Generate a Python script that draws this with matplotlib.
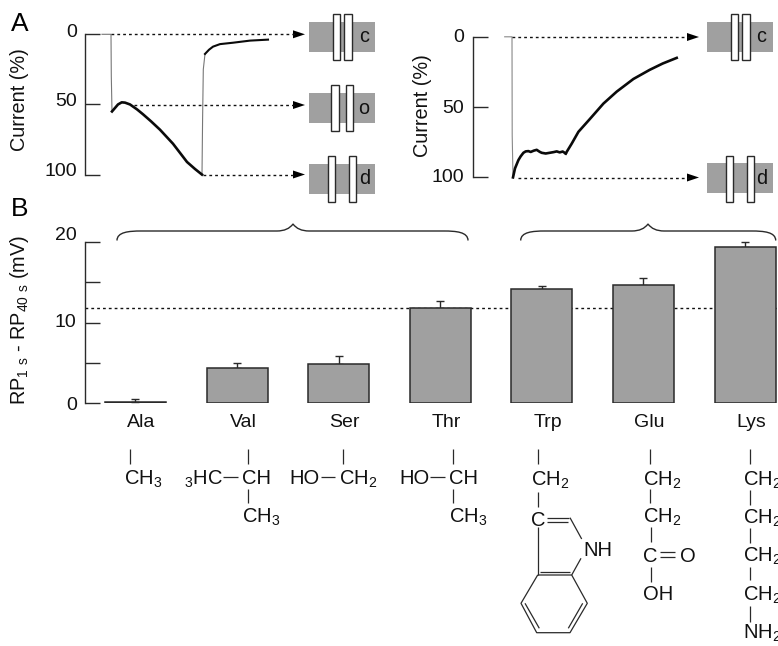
import numpy as np
import matplotlib
matplotlib.use("Agg")
import matplotlib.pyplot as plt
from matplotlib.patches import Rectangle, Polygon, PathPatch
from matplotlib.path import Path

plt.rcParams['font.family'] = ['Liberation Sans', 'DejaVu Sans']
plt.rcParams['mathtext.default'] = 'regular'
plt.rcParams['mathtext.fontset'] = 'custom'
plt.rcParams['mathtext.rm'] = 'Liberation Sans'

W, H = 778, 646
DARK = '#2a2a2a'
GREY = '#a0a0a0'

# bar data
amino = ['Ala', 'Val', 'Ser', 'Thr', 'Trp', 'Glu', 'Lys']
rp_diff = [0.1, 4.4, 4.8, 11.85, 14.1, 14.65, 19.4]
rp_top = [0.5, 5.0, 5.9, 12.7, 14.55, 15.55, 19.95]
threshold = 11.8
bar_ticks = [0, 5, 10, 15, 20]

# current traces, left panel
t1_fast_a = [17, 26, 26.3, 27]
c1_fast_a = [0, 0, 30, 55]
t1_slow = [27, 30, 33, 36.7, 40, 45, 52, 58, 66, 75, 88, 95, 102, 110, 117]
c1_slow = [55, 52.5, 50, 48.5, 48.7, 50, 53.5, 57, 62, 68, 78, 84.5, 91, 96, 100]
t1_fast_b = [117, 117.6, 118.3, 120]
c1_fast_b = [100, 60, 25, 14]
t1_rec = [120, 124, 128, 135, 148, 165, 183]
c1_rec = [14, 11, 8.8, 7, 6, 4.5, 3.8]

# current traces, right panel
t2_fast = [32, 39.3, 39.5, 40.3]
c2_fast = [0, 0, 70, 100]
t2_slow = [40.3, 42.3, 45.7, 48, 50.7, 53, 55.7, 58, 61, 64, 67, 69, 73, 77, 81, 84, 87, 90, 93]
c2_slow = [100, 93.6, 87.7, 85, 82.5, 81.5, 81.3, 81.9, 81, 80.4, 81.8, 82.5, 83, 82.5, 82, 81.5, 82.2, 81.6, 83]
t2_rec = [93, 99, 105.7, 117, 130.7, 144, 160.7, 177, 190, 204]
c2_rec = [83, 76, 67.6, 58.6, 47.5, 39, 30, 23.5, 19, 15]

tick_offsets_a1 = [-2, -3, -3]
tick_offsets_a2 = [1, 1, 0]
tick_offsets_b = [3, 0, -6]


def px_axes(l, t, w, h, **kw):
    return fig.add_axes([l / W, 1 - (t + h) / H, w / W, h / H], **kw)


def bracket_axis(ax, ticks, labels, offsets):
    for s in ['top', 'right', 'bottom']:
        ax.spines[s].set_visible(False)
    ax.spines['left'].set_color(DARK)
    ax.spines['left'].set_linewidth(1.0)
    ax.set_xticks([])
    ax.set_yticks(ticks)
    ax.set_yticklabels([])
    ax.tick_params(axis='y', direction='in', length=10.8, width=1.0, color=DARK)
    k = 0
    for v in labels:
        ax.annotate(str(v), xy=(0, v), xycoords=('axes fraction', 'data'),
                    xytext=(-6, -offsets[k] * 0.72), textcoords='offset points',
                    ha='right', va='center', fontsize=14, color='#111111')
        k += 1


fig = plt.figure(figsize=(W / 100, H / 100), dpi=100)

# panel A, left
ax1 = px_axes(85, 34.3, 215, 140.3)
ax1.set_xlim(0, 215)
ax1.set_ylim(100, 0)
bracket_axis(ax1, [0, 50, 100], [0, 50, 100], tick_offsets_a1)
ax1.plot(t1_fast_a, c1_fast_a, color='#777777', lw=0.8, clip_on=False)
ax1.plot(t1_fast_b, c1_fast_b, color='#777777', lw=0.8, clip_on=False)
ax1.plot(t1_slow, c1_slow, color='#0a0a0a', lw=1.9, clip_on=False)
ax1.plot(t1_rec, c1_rec, color='#0a0a0a', lw=1.5, clip_on=False)

# panel A, right
ax2 = px_axes(472.7, 36.8, 215, 140.6)
ax2.set_xlim(0, 215)
ax2.set_ylim(100, 0)
bracket_axis(ax2, [0, 50, 100], [0, 50, 100], tick_offsets_a2)
ax2.plot(t2_fast, c2_fast, color='#888888', lw=0.8, clip_on=False)
ax2.plot(t2_slow, c2_slow, color='#0a0a0a', lw=1.9, clip_on=False)
ax2.plot(t2_rec, c2_rec, color='#0a0a0a', lw=1.9, clip_on=False)

# panel B
ax3 = px_axes(85, 242, 693, 161)
x = np.arange(len(amino))
ax3.set_xlim(-0.497, 6.324)
ax3.set_ylim(0, 20)
bracket_axis(ax3, bar_ticks, [0, 10, 20], tick_offsets_b)
ax3.axhline(threshold, color='#111111', lw=1.0, ls=(0, (2, 2.2)), zorder=1)
err = np.array(rp_top) - np.array(rp_diff)
ax3.errorbar(x, rp_diff, yerr=[np.zeros(len(err)), err], fmt='none', ecolor=DARK,
             elinewidth=1.0, capsize=2.9, capthick=1.0, zorder=1.5, clip_on=False)
ax3.bar(x, rp_diff, width=0.6, color=GREY, edgecolor=DARK, linewidth=1.1, zorder=2)
ax3.set_xticks(x + 0.06)
ax3.set_xticklabels(amino, fontsize=14, color='#111111')
ax3.tick_params(axis='x', length=0, pad=8)

# everything else sits on an overlay in pixel coordinates
ov = px_axes(0, 0, W, H)
ov.set_xlim(0, W)
ov.set_ylim(H, 0)
ov.axis('off')
ov.patch.set_alpha(0)

ov.text(20, 100, 'Current (%)', rotation=90, fontsize=14.3, ha='center', va='center', color='#111111')
ov.text(423, 106, 'Current (%)', rotation=90, fontsize=14.3, ha='center', va='center', color='#111111')
ov.text(20, 320, r'RP$_{1\ s}$ - RP$_{40\ s}$ (mV)', rotation=90, fontsize=14.3, ha='center', va='center', color='#111111')
ov.text(10.5, 24, 'A', fontsize=19, ha='left', va='center')
ov.text(10.5, 209, 'B', fontsize=19, ha='left', va='center')


def arrow(x0, x1, y):
    ov.plot([x0, x1 - 10], [y, y], color='#111111', lw=1.0, ls=(0, (2, 2.2)))
    ov.add_patch(Polygon([[x1 - 12, y - 4], [x1, y], [x1 - 12, y + 4]], closed=True, color='black', lw=0))


arrow(111, 305, 34.3)
arrow(134, 305, 105)
arrow(203, 305, 174.5)
arrow(512, 699, 37)
arrow(518, 699, 177.5)


def channel(gx, gy, r1, r2, top, letter, lx):
    ov.add_patch(Rectangle((gx, gy), 66, 30, facecolor=GREY, edgecolor='none'))
    for r in (r1, r2):
        ov.add_patch(Rectangle((r, top), 7.4, 46, facecolor='white', edgecolor=DARK, lw=1.0))
    ov.text(lx, gy + 15, letter, fontsize=14.3, ha='center', va='center', color='#111111')


channel(309, 22, 333, 344.5, 14, 'c', 364.5)
channel(309, 93, 331.5, 346, 85, 'o', 364)
channel(309, 164, 328, 349, 156, 'd', 364.5)
channel(707, 22, 731, 742.5, 14, 'c', 761.5)
channel(707, 163, 726, 747, 156, 'd', 761.5)


def brace(x0, xm, x1):
    y0, y, tip = 240.5, 231, 224
    verts = [(x0, y0), (x0, y + 1), (x0 + 12, y), (x0 + 24, y),
             (xm - 16, y), (xm - 5, y), (xm, tip),
             (xm + 5, y), (xm + 16, y), (x1 - 24, y),
             (x1 - 12, y), (x1, y + 1), (x1, y0)]
    codes = [Path.MOVETO, Path.CURVE4, Path.CURVE4, Path.CURVE4, Path.LINETO,
             Path.CURVE3, Path.CURVE3, Path.CURVE3, Path.CURVE3, Path.LINETO,
             Path.CURVE4, Path.CURVE4, Path.CURVE4]
    ov.add_patch(PathPatch(Path(verts, codes), facecolor='none', edgecolor=DARK, lw=1.0))


brace(117, 293, 468)
brace(520.7, 648, 775.7)


def chem(x0, yc, s):
    ov.text(x0, yc + 6.5, s, fontsize=14.5, ha='left', va='baseline', color='#111111')


def bond(*pts):
    xs = [p[0] for p in pts]
    ys = [p[1] for p in pts]
    ov.plot(xs, ys, color=DARK, lw=0.9, solid_capstyle='butt')


# Ala
bond((130, 449), (130, 464))
chem(124.5, 478, 'CH$_3$')
# Val
bond((247.7, 449), (247.7, 464))
chem(242, 478, 'CH')
chem(184, 478, '$_3$HC')
bond((223, 476.7), (238, 476.7))
bond((247.7, 489), (247.7, 503))
chem(242, 516, 'CH$_3$')
# Ser
bond((343.3, 449), (343.3, 464))
chem(289.5, 478, 'HO')
bond((321, 476.7), (335, 476.7))
chem(338.8, 478, 'CH$_2$')
# Thr
bond((452.7, 449), (452.7, 464))
chem(399.5, 478, 'HO')
bond((430, 476.7), (445, 476.7))
chem(448.8, 478, 'CH')
bond((452.7, 489), (452.7, 503))
chem(448.8, 516, 'CH$_3$')
# Trp
bond((537.7, 449), (537.7, 464))
chem(531, 479, 'CH$_2$')
bond((537.7, 491.7), (537.7, 506.7))
chem(531, 519.3, 'C')
bond((546.7, 517.7), (569.3, 517.7))
bond((546.7, 521.7), (568, 521.7))
bond((570, 517.7), (581.7, 539))
chem(583, 549.3, 'NH')
bond((581, 558.3), (571.7, 575))
bond((537.7, 526.7), (537.7, 575))
bond((537.7, 575), (521, 603.3), (536.7, 632.7), (570, 632.7), (587.3, 603.3), (571.7, 575), (537.7, 575))
bond((540, 572.3), (570, 572.3))
bond((525, 603.3), (539.3, 628.3))
bond((582.7, 603.3), (568.3, 628.3))
# Glu
bond((650.3, 449), (650.3, 464))
chem(643, 479, 'CH$_2$')
bond((650.5, 489), (650.5, 503.3))
chem(643, 516, 'CH$_2$')
bond((651, 527), (651, 541.7))
chem(643, 555, 'C')
bond((660, 552), (675, 552))
bond((660, 557), (675, 557))
chem(680, 555, 'O')
bond((651, 566.7), (651, 581.7))
chem(643, 594, 'OH')
# Lys
bond((750, 449), (750, 464))
chem(743.5, 479, 'CH$_2$')
bond((750, 490), (750, 505))
chem(743.5, 517, 'CH$_2$')
bond((750, 527.7), (750, 542.7))
chem(743.5, 555, 'CH$_2$')
bond((750, 566.7), (750, 580))
chem(743.5, 594.7, 'CH$_2$')
bond((750, 606), (750, 621.7))
chem(743.5, 632, 'NH$_2$')

fig.savefig('out.png', dpi=100)
